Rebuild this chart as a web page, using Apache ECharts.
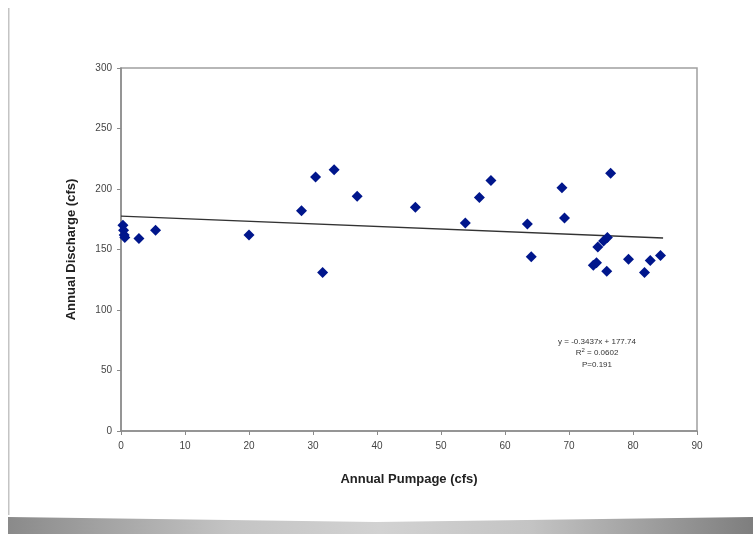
<!DOCTYPE html>
<html>
<head>
<meta charset="utf-8">
<script src="https://cdn.jsdelivr.net/npm/echarts@6/dist/echarts.min.js"></script>
<style>
html,body{margin:0;padding:0;background:#fff;}
#chart{width:753px;height:534px;}
</style>
</head>
<body>
<div id="chart"></div>
<script>
// Data
const pumpage = [0.3, 0.4, 0.5, 0.6, 2.8, 5.4, 20.0, 28.2, 30.4, 31.5, 33.3, 36.9, 46.0, 53.8, 56.0, 57.8, 63.5, 64.1, 68.9, 69.3, 73.8, 74.3, 74.5, 75.4, 75.9, 76.0, 76.5, 79.3, 81.8, 82.7, 84.3];
const discharge = [170, 166, 162, 160, 159, 166, 162, 182, 210, 131, 216, 194, 185, 172, 193, 207, 171, 144, 201, 176, 137, 139, 152, 157, 132, 160, 213, 142, 131, 141, 145];
const trendX = [0, 84.7];
const trendY = [177.5, 159.5];
const xTicks = [0, 10, 20, 30, 40, 50, 60, 70, 80, 90];
const yTicks = [0, 50, 100, 150, 200, 250, 300];
const equationLines = ['y = -0.3437x + 177.74', 'R{sup|2} = 0.0602', 'P=0.191'];

const chart = echarts.init(document.getElementById('chart'), null, {renderer: 'canvas'});
const points = pumpage.map((x, i) => [x, discharge[i]]);
const trend = trendX.map((x, i) => [x, trendY[i]]);

chart.setOption({
  animation: false,
  backgroundColor: '#fff',
  graphic: [
    {type: 'rect', shape: {x: 8, y: 8, width: 1.5, height: 508}, style: {fill: '#c4c4c4'}, z: 0},
    {type: 'polygon', shape: {points: [[8, 515], [753, 515], [753, 534], [8, 534]]},
      style: {fill: new echarts.graphic.LinearGradient(0, 0, 1, 0, [
        {offset: 0, color: '#8a8a8a'}, {offset: 0.3, color: '#c4c4c4'}, {offset: 0.5, color: '#d2d2d2'},
        {offset: 0.7, color: '#c4c4c4'}, {offset: 1, color: '#7e7e7e'}])}, z: 0},
    {type: 'polygon', shape: {points: [[8, 515], [753, 515], [753, 517], [376, 522], [8, 517]]},
      style: {fill: '#ffffff'}, z: 1},
    {type: 'text', x: 597, y: 336, style: {
      text: equationLines.join('\n'), align: 'center', verticalAlign: 'top',
      font: '8px "Liberation Sans", Arial, sans-serif', fill: '#333', lineHeight: 11.5,
      rich: {sup: {fontSize: 6, verticalAlign: 'top', lineHeight: 11.5, fill: '#333'}}
    }, z: 10}
  ],
  grid: {left: 121, right: 56, top: 68, bottom: 103, show: true, borderColor: '#a0a0a0', borderWidth: 1.5, backgroundColor: '#fff'},
  xAxis: {
    type: 'value', min: 0, max: 90, interval: 10,
    name: 'Annual Pumpage (cfs)', nameLocation: 'middle', nameGap: 42,
    nameTextStyle: {fontFamily: '"Liberation Sans", Arial, sans-serif', fontWeight: 'bold', fontSize: 13, color: '#222'},
    axisLine: {show: true, lineStyle: {color: '#8a8a8a', width: 1.5}},
    axisTick: {show: true, inside: false, length: 4, lineStyle: {color: '#8a8a8a'}},
    axisLabel: {fontFamily: '"Liberation Sans", Arial, sans-serif', fontSize: 10, color: '#444', margin: 10,
      formatter: v => xTicks.includes(v) ? String(v) : ''},
    splitLine: {show: false}
  },
  yAxis: {
    type: 'value', min: 0, max: 300, interval: 50,
    name: 'Annual Discharge (cfs)', nameLocation: 'middle', nameGap: 43, nameRotate: 90,
    nameTextStyle: {fontFamily: '"Liberation Sans", Arial, sans-serif', fontWeight: 'bold', fontSize: 13, color: '#222'},
    axisLine: {show: true, lineStyle: {color: '#8a8a8a', width: 1.5}},
    axisTick: {show: true, inside: false, length: 4, lineStyle: {color: '#8a8a8a'}},
    axisLabel: {fontFamily: '"Liberation Sans", Arial, sans-serif', fontSize: 10, color: '#444', margin: 9,
      formatter: v => yTicks.includes(v) ? String(v) : ''},
    splitLine: {show: false}
  },
  series: [
    {type: 'line', data: trend, symbol: 'none', lineStyle: {color: '#333', width: 1.3}, z: 3, silent: true},
    {type: 'scatter', data: points, symbol: 'diamond', symbolSize: [11, 11], itemStyle: {color: '#00168c', opacity: 1}, z: 4}
  ]
});
</script>
</body>
</html>
